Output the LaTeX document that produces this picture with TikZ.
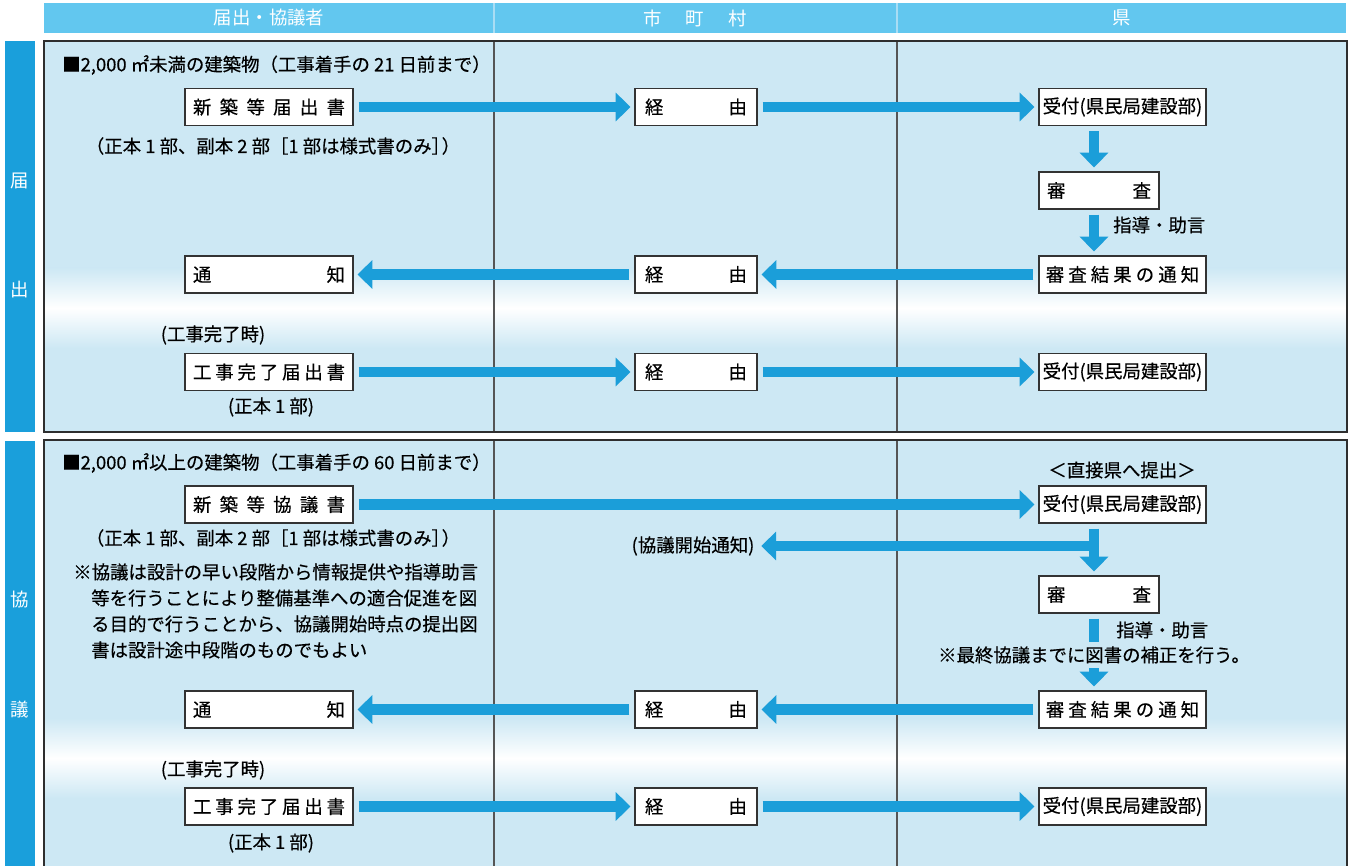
\documentclass[tikz,border=0pt]{standalone}
\usepackage{fontspec}
\setmainfont{Noto Sans CJK JP}
\newfontfamily\bkfont{Noto Sans CJK JP}[FakeBold=0.4]
\usetikzlibrary{arrows.meta}
\definecolor{hdr}{HTML}{62C7EF}
\definecolor{hdrline}{HTML}{A9DDF4}
\definecolor{tabc}{HTML}{1A9FDB}
\definecolor{pnl}{HTML}{CDE8F4}
\definecolor{arrc}{HTML}{1B9ED9}
\definecolor{bdr}{HTML}{333333}
\definecolor{pbdr}{HTML}{2E2E2E}
\definecolor{cdiv}{HTML}{555555}
\begin{document}
\begin{tikzpicture}[x=0.75pt,y=-0.75pt,
  every node/.style={font=\fontsize{13.8pt}{16pt}\selectfont, inner sep=0pt},
  boxL/.style={draw=bdr, line width=0.9pt, fill=white, minimum width=126pt, minimum height=27.75pt, font=\fontsize{13.8pt}{16pt}\bkfont},
  boxM/.style={boxL, minimum width=91.5pt},
  boxR/.style={boxL, minimum width=125.25pt},
  boxS/.style={boxL, minimum width=90pt},
  flow/.style={draw=arrc, line width=7.9pt, -{Triangle[width=21pt,length=11pt]}, shorten <=3.75pt, shorten >=3pt},
  lbl/.style={text=black, font=\fontsize{13.8pt}{16pt}\bkfont},
  wtxt/.style={text=white},
  pborder/.style={draw=pbdr, line width=1.1pt},
  coldiv/.style={draw=cdiv, line width=0.9pt},
]
\clip (0,0) rectangle (1354,866);
\fill[white] (0,0) rectangle (1354,866);

% header
\fill[hdr] (44,3) rectangle (1346,33);
\draw[hdrline, line width=0.8pt] (494,3) -- (494,33);
\draw[hdrline, line width=0.8pt] (897,3) -- (897,33);
\node[wtxt] (h1) at (269,18) {届出・協議者};
\node[wtxt] (h2) at (695,18) {市\hspace{18pt}町\hspace{18pt}村};
\node[wtxt] (h3) at (1122,18) {県};

% side tabs
\fill[tabc] (5,41) rectangle (35,432);
\fill[tabc] (5,441) rectangle (35,870);
\node[wtxt] (s1) at (20,181) {届};
\node[wtxt] (s2) at (20,290) {出};
\node[wtxt] (s3) at (20,600) {協};
\node[wtxt] (s4) at (20,710) {議};

% panels
\fill[pnl] (44,41) rectangle (1347,432);
\shade[top color=pnl, bottom color=pnl, middle color=white] (45,268) rectangle (1346,348);
\fill[pnl] (44,440) rectangle (1347,880);
\shade[top color=pnl, bottom color=pnl, middle color=white] (45,718) rectangle (1346,798);
\draw[coldiv] (494,41) -- (494,432);
\draw[coldiv] (897,41) -- (897,432);
\draw[coldiv] (494,440) -- (494,880);
\draw[coldiv] (897,440) -- (897,880);
\draw[pborder] (44,41) rectangle (1347,432);
\draw[pborder] (44,440) rectangle (1347,880);

\coordinate (ax) at (1094,0);

% ---------- panel 1 ----------
\node[lbl, anchor=west] (t1) at (62,65) {■2,000 ㎡未満の建築物（工事着手の 21 日前まで）};
\node[boxL] (sin1) at (269,107) {\hbox to 114pt{新\hfill 築\hfill 等\hfill 届\hfill 出\hfill 書}};
\node[boxM] (kei1a) at (696,107) {\hbox to 76.5pt{経\hfill 由}};
\node[boxR] (uke1a) at (1122.5,107) {受付(県民局建設部)};
\node[lbl] (t2) at (273,146) {（正本 1 部、副本 2 部［1 部は様式書のみ］\kern-0.45em）};
\node[boxS] (shin1) at (1099,190.5) {\hbox to 78pt{審\hfill 査}};
\node[lbl, anchor=west] (g1) at (1113,225) {指導・助言};
\node[boxR] (res1) at (1122.5,274.5) {\hbox to 115pt{審\hfill 査\hfill 結\hfill 果\hfill の\hfill 通\hfill 知}};
\node[boxM] (kei1b) at (696,274.5) {\hbox to 76.5pt{経\hfill 由}};
\node[boxL] (tsu1) at (269,274.5) {\hbox to 114pt{通\hfill 知}};
\node[lbl] (t3) at (213,335) {(工事完了時)};
\node[boxL] (kan1) at (269,372) {\hbox to 114pt{工\hfill 事\hfill 完\hfill 了\hfill 届\hfill 出\hfill 書}};
\node[boxM] (kei1c) at (696,372) {\hbox to 76.5pt{経\hfill 由}};
\node[boxR] (uke1c) at (1122.5,372) {受付(県民局建設部)};
\node[lbl] (t4) at (271,407) {(正本 1 部)};

\draw[flow] (sin1) -- (kei1a);
\draw[flow] (kei1a) -- (uke1a);
\draw[flow] (uke1a.south -| ax) -- (shin1.north -| ax);
\draw[flow] (shin1.south -| ax) -- (res1.north -| ax);
\draw[flow] (res1) -- (kei1b);
\draw[flow] (kei1b) -- (tsu1);
\draw[flow] (kan1) -- (kei1c);
\draw[flow] (kei1c) -- (uke1c);

% ---------- panel 2 ----------
\node[lbl, anchor=west] (t5) at (62,463) {■2,000 ㎡以上の建築物（工事着手の 60 日前まで）};
\node[lbl] (jk) at (1122,470) {＜直接県へ提出＞};
\node[boxL] (kyo2) at (269,504.5) {\hbox to 114pt{新\hfill 築\hfill 等\hfill 協\hfill 議\hfill 書}};
\node[boxR] (uke2a) at (1122.5,504.5) {受付(県民局建設部)};
\node[lbl] (t6) at (273,538) {（正本 1 部、副本 2 部［1 部は様式書のみ］\kern-0.45em）};
\node[lbl, anchor=west] (n1) at (73,572) {※協議は設計の早い段階から情報提供や指導助言};
\node[lbl, anchor=west] (n2) at (91,598) {等を行うことにより整備基準への適合促進を図};
\node[lbl, anchor=west] (n3) at (91,624) {る目的で行うことから、協議開始時点の提出図};
\node[lbl, anchor=west] (n4) at (91,650) {書は設計途中段階のものでもよい};
\node[lbl] (kt) at (693,546) {(協議開始通知)};
\node[boxS] (shin2) at (1099,594.5) {\hbox to 78pt{審\hfill 査}};
\node[lbl, anchor=west] (g2) at (1116,630) {指導・助言};
\node[boxR] (res2) at (1122.5,709.5) {\hbox to 115pt{審\hfill 査\hfill 結\hfill 果\hfill の\hfill 通\hfill 知}};
\node[boxM] (kei2b) at (696,709.5) {\hbox to 76.5pt{経\hfill 由}};
\node[boxL] (tsu2) at (269,709.5) {\hbox to 114pt{通\hfill 知}};
\node[lbl] (t7) at (213,770) {(工事完了時)};
\node[boxL] (kan2) at (269,806.5) {\hbox to 114pt{工\hfill 事\hfill 完\hfill 了\hfill 届\hfill 出\hfill 書}};
\node[boxM] (kei2c) at (696,806.5) {\hbox to 76.5pt{経\hfill 由}};
\node[boxR] (uke2c) at (1122.5,806.5) {受付(県民局建設部)};
\node[lbl] (t8) at (271,843) {(正本 1 部)};

\draw[flow] (kyo2) -- (uke2a);
\draw[flow] (uke2a.south -| ax) -- (shin2.north -| ax);
\draw[flow, shorten <=0pt, shorten >=5pt] (ax |- kt) -- (kt.east);
\draw[flow] (shin2.south -| ax) -- (res2.north -| ax);
\node[lbl, fill=pnl, inner xsep=2pt, inner ysep=3pt] (note) at (1094,655) {※最終協議までに図書の補正を行う。};
\draw[flow] (res2) -- (kei2b);
\draw[flow] (kei2b) -- (tsu2);
\draw[flow] (kan2) -- (kei2c);
\draw[flow] (kei2c) -- (uke2c);
\end{tikzpicture}
\end{document}
